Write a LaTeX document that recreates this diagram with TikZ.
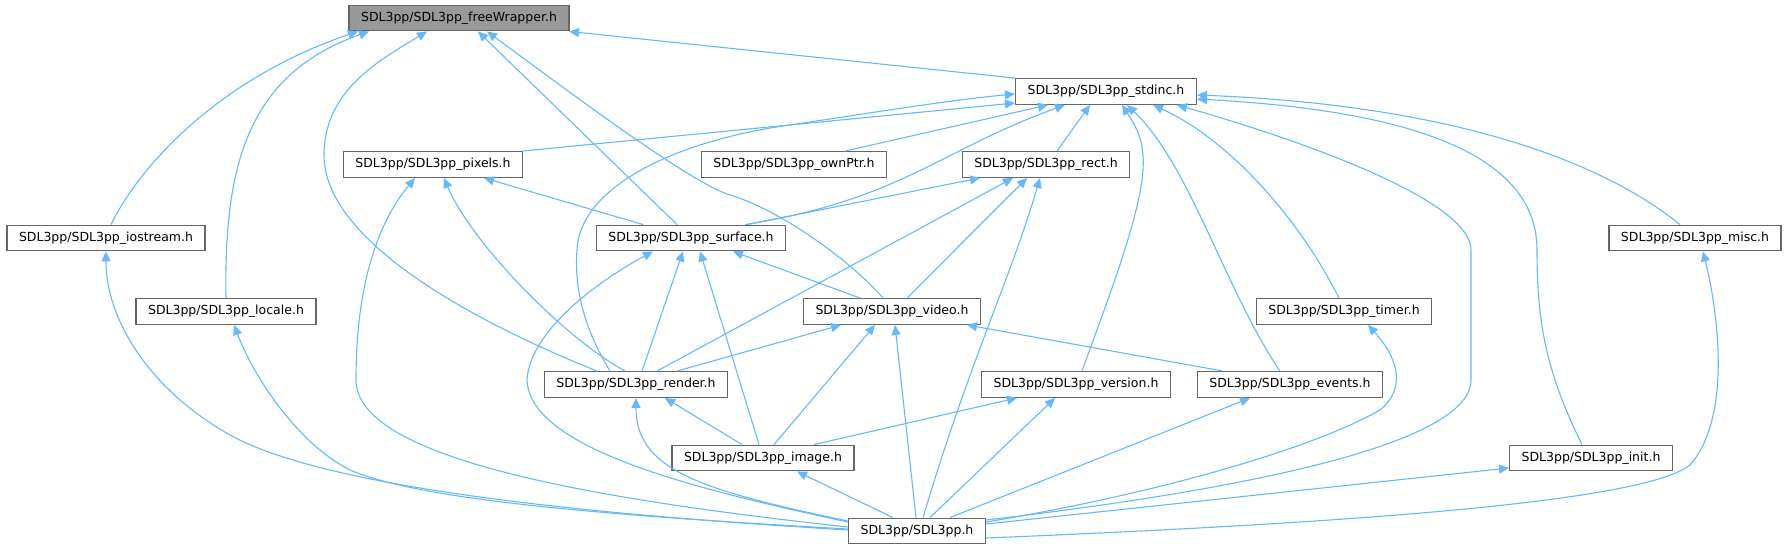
\documentclass[tikz,border=0pt]{standalone}
\usepackage{fontspec}
\usepackage{tikz}
\usetikzlibrary{arrows.meta}
\newfontfamily\hdrfont{DejaVu Sans}
\definecolor{edgeblue}{HTML}{63B8FF}
\definecolor{boxgray}{HTML}{666666}
\definecolor{rootgray}{HTML}{999999}

\begin{document}
\begin{tikzpicture}[x=1pt, y=-1pt,
  hfile/.style={draw=boxgray, line width=1.4pt, fill=white, inner xsep=12pt, inner ysep=0pt,
    minimum height=25.5pt, font={\hdrfont\fontsize{12.5}{14}\selectfont}},
  dep/.style={draw=edgeblue, line width=1.1pt, -{Triangle[length=10pt, width=9pt]}}]
\useasboundingbox (0,0) rectangle (1788,549);

% Headers, one row per graph rank
\node[hfile, fill=rootgray] (fw) at (459,18) {SDL3pp/SDL3pp\_freeWrapper.h};
\node[hfile] (stdinc) at (1106,91.5) {SDL3pp/SDL3pp\_stdinc.h};
\node[hfile] (pixels) at (433,164.5) {SDL3pp/SDL3pp\_pixels.h};
\node[hfile] (ownPtr) at (794,164.5) {SDL3pp/SDL3pp\_ownPtr.h};
\node[hfile] (rect) at (1046,164.5) {SDL3pp/SDL3pp\_rect.h};
\node[hfile] (iostream) at (106,238) {SDL3pp/SDL3pp\_iostream.h};
\node[hfile] (surface) at (691,238) {SDL3pp/SDL3pp\_surface.h};
\node[hfile] (misc) at (1695,238) {SDL3pp/SDL3pp\_misc.h};
\node[hfile] (locale) at (226,311.5) {SDL3pp/SDL3pp\_locale.h};
\node[hfile] (video) at (892,311.5) {SDL3pp/SDL3pp\_video.h};
\node[hfile] (timer) at (1344,311.5) {SDL3pp/SDL3pp\_timer.h};
\node[hfile] (render) at (636,384.5) {SDL3pp/SDL3pp\_render.h};
\node[hfile] (version) at (1076,384.5) {SDL3pp/SDL3pp\_version.h};
\node[hfile] (events) at (1290,384.5) {SDL3pp/SDL3pp\_events.h};
\node[hfile] (image) at (763,458) {SDL3pp/SDL3pp\_image.h};
\node[hfile] (init) at (1591,458) {SDL3pp/SDL3pp\_init.h};
\node[hfile] (sdl) at (917,531) {SDL3pp/SDL3pp.h};

% Included by freeWrapper
\draw[dep] ([xshift=5]iostream.north) .. controls (140,165) and (220,78) .. ([xshift=-101]fw.south);
\draw[dep] (locale.north) .. controls (224,170) and (245,75) .. ([xshift=-90]fw.south);
\draw[dep] ([xshift=-39]render.north) .. controls (470,320) and (324,240) .. (324,155)
  .. controls (324,90) and (380,60) .. ([xshift=-32]fw.south);
\draw[dep] ([xshift=-14]surface.north) -- ([xshift=19]fw.south);
\draw[dep] ([xshift=-9]video.north) .. controls (850,260) and (780,210) .. (730,195)
  .. controls (690,183) and (560,85) .. ([xshift=28]fw.south);
\draw[dep] ([xshift=-91]stdinc.north) -- ([xshift=110]fw.south);

% Included by stdinc
\draw[dep] ([xshift=-26]render.north) .. controls (585,330) and (574,290) .. (577,250)
  .. controls (580,185) and (680,140) .. (790,125) .. controls (870,113) and (950,100) .. ([yshift=-2.5]stdinc.west);
\draw[dep] ([xshift=-1]pixels.north east) -- ([yshift=-11.5]stdinc.west);
\draw[dep] ([xshift=51]ownPtr.north) -- ([xshift=-58]stdinc.south);
\draw[dep] ([xshift=54]surface.north) .. controls (900,200) and (940,150) .. ([xshift=-41]stdinc.south);
\draw[dep] ([xshift=11]rect.north) -- ([xshift=-16]stdinc.south);
\draw[dep] ([xshift=6]version.north) .. controls (1100,320) and (1140,220) .. (1143,170)
  .. controls (1145,140) and (1135,125) .. ([xshift=16]stdinc.south);
\draw[dep] ([xshift=-10]events.north) .. controls (1225,290) and (1190,165) .. ([xshift=21]stdinc.south);
\draw[dep] ([xshift=-5]timer.north) .. controls (1300,220) and (1230,140) .. ([xshift=47]stdinc.south);
\draw[dep] ([yshift=11]sdl.east) .. controls (1200,495) and (1471,450) .. (1471,380) -- (1471,250)
  .. controls (1471,200) and (1300,140) .. ([xshift=71]stdinc.south);
\draw[dep] ([xshift=-15]misc.north) .. controls (1600,160) and (1450,105) .. ([yshift=-3.5]stdinc.east);
\draw[dep] ([xshift=-9]init.north) .. controls (1545,370) and (1537,320) .. (1537,250)
  .. controls (1537,150) and (1400,110) .. ([yshift=-7.5]stdinc.east);

% Included by pixels
\draw[dep] ([yshift=4]sdl.west) .. controls (600,500) and (356,460) .. (356,380)
  .. controls (356,280) and (380,220) .. ([xshift=-18]pixels.south);
\draw[dep] ([xshift=-11]render.north) .. controls (560,335) and (470,240) .. ([xshift=11]pixels.south);
\draw[dep] ([xshift=-48]surface.north) -- ([xshift=51]pixels.south);

% Included by surface
\draw[dep] ([yshift=9]sdl.west) .. controls (700,490) and (530,450) .. (527,380)
  .. controls (530,330) and (600,280) .. ([xshift=-38]surface.south);
\draw[dep] ([xshift=6]render.north) -- ([xshift=-8]surface.south);
\draw[dep] ([xshift=-4]image.north) -- ([xshift=9]surface.south);
\draw[dep] ([xshift=-32]video.north) -- ([xshift=42]surface.south);

% Included by rect
\draw[dep] ([xshift=56]surface.north) -- ([xshift=-66]rect.south);
\draw[dep] ([xshift=21]render.north) -- ([xshift=-33]rect.south);
\draw[dep] ([xshift=15]video.north) -- ([xshift=-19]rect.south);
\draw[dep] ([xshift=6]sdl.north) .. controls (970,360) and (1010,280) .. ([xshift=-6]rect.south);

% Included by video
\draw[dep] ([xshift=41]render.north) -- ([xshift=-51]video.south);
\draw[dep] ([xshift=11]image.north) -- ([xshift=-17]video.south);
\draw[dep] ([xshift=-1]sdl.north) -- ([xshift=3]video.south);
\draw[dep] ([xshift=-67]events.north) -- ([xshift=75]video.south);

% Lower ranks
\draw[dep] ([xshift=-21]image.north) -- ([xshift=29]render.south);
\draw[dep] ([yshift=10]sdl.west) .. controls (700,490) and (636,470) .. (render.south);
\draw[dep] ([xshift=-24]sdl.north) -- ([xshift=34]image.south);
\draw[dep] ([xshift=51]image.north) -- ([xshift=-59]version.south);
\draw[dep] ([xshift=13]sdl.north) -- ([xshift=-21]version.south);
\draw[dep] ([xshift=33]sdl.north) -- ([xshift=-40]events.south);
\draw[dep] ([yshift=9]sdl.east) .. controls (1150,495) and (1310,450) .. (1380,410)
  .. controls (1405,390) and (1400,360) .. ([xshift=24]timer.south);
\draw[dep] ([yshift=7]sdl.east) -- ([yshift=-10]init.west);
\draw[dep] ([yshift=-7]sdl.east) .. controls (1300,525) and (1640,505) .. (1690,465)
  .. controls (1730,420) and (1720,320) .. ([xshift=8]misc.south);
\draw[dep] ([yshift=1]sdl.west) .. controls (600,515) and (330,490) .. (230,435)
  .. controls (150,390) and (106,320) .. (iostream.south);
\draw[dep] ([yshift=2]sdl.west) .. controls (600,515) and (420,500) .. (350,470)
  .. controls (300,445) and (255,380) .. ([xshift=8]locale.south);
\end{tikzpicture}
\end{document}
